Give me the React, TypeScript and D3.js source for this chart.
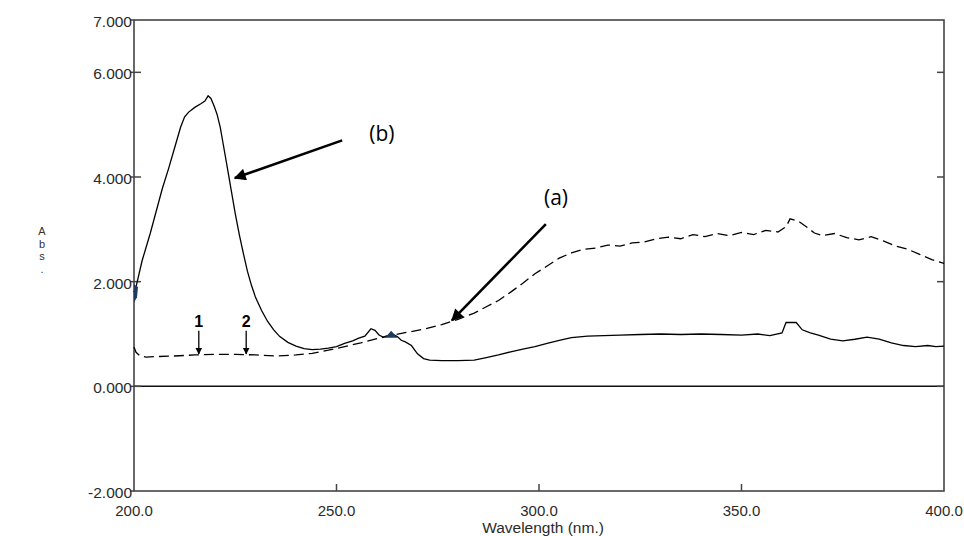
import React from "react";
import * as d3 from "d3";

const xTicks = [200, 250, 300, 350, 400];
const yTicks = [7, 6, 4, 2, 0, -2];

const bWave = [200, 200.5, 202, 204, 205.5, 207, 208.5, 210, 211.5, 212.5, 213.5, 215, 216.5, 217.5, 218.3, 219, 219.8, 220.5, 221.3, 222, 223, 224, 225, 226, 227, 228, 229, 230, 231.5, 233, 234.5, 236, 238, 240, 242, 244, 246, 248, 250, 252, 254, 255.5, 257, 258.5, 259.5, 260.5, 261.5, 263, 264, 265, 266, 267, 268.5, 270, 271.5, 273, 276, 280, 284, 287, 290, 293, 296, 299, 302, 305, 308, 312, 316, 320, 325, 330, 335, 340, 345, 350, 354, 357, 360, 361, 363.5, 365, 367, 369, 372, 375, 378, 381, 384, 387, 390, 393, 396, 398, 400];
const bAbs = [1.8, 1.9, 2.4, 2.92, 3.35, 3.78, 4.15, 4.55, 4.95, 5.15, 5.24, 5.33, 5.4, 5.45, 5.55, 5.5, 5.35, 5.2, 4.95, 4.64, 4.2, 3.75, 3.3, 2.9, 2.54, 2.2, 1.93, 1.7, 1.45, 1.24, 1.08, 0.95, 0.84, 0.77, 0.72, 0.7, 0.71, 0.73, 0.76, 0.82, 0.87, 0.92, 0.96, 1.1, 1.07, 0.98, 0.94, 0.98, 0.99, 0.95, 0.88, 0.85, 0.78, 0.62, 0.53, 0.5, 0.49, 0.49, 0.5, 0.55, 0.6, 0.66, 0.71, 0.76, 0.82, 0.88, 0.93, 0.96, 0.97, 0.98, 0.99, 1.0, 0.99, 1.0, 0.99, 0.98, 1.0, 0.97, 1.02, 1.22, 1.22, 1.08, 1.02, 0.98, 0.9, 0.87, 0.9, 0.94, 0.9, 0.83, 0.78, 0.76, 0.78, 0.76, 0.77];

const aWave = [200, 200.5, 201.5, 203, 206, 210, 215, 220, 225, 230, 235, 240, 244, 248, 252, 256, 260, 264, 268, 272, 276, 280, 284, 287, 290, 293, 296, 299, 302, 305, 308, 311, 314, 317, 320, 323, 326, 329, 332, 335, 338, 341, 344, 347, 350, 353, 356, 359, 361, 362, 364, 366, 368, 370, 373, 376, 379, 382, 385, 388, 391, 394, 397, 400];
const aAbs = [0.75, 0.65, 0.58, 0.56, 0.57, 0.58, 0.6, 0.61, 0.61, 0.6, 0.58, 0.6, 0.63, 0.69, 0.76, 0.83, 0.91, 0.98, 1.04, 1.1, 1.18, 1.28, 1.4, 1.52, 1.64, 1.8, 1.97, 2.15, 2.3, 2.45, 2.55, 2.62, 2.64, 2.7, 2.68, 2.74, 2.76, 2.82, 2.85, 2.82, 2.9, 2.86, 2.92, 2.88, 2.94, 2.9, 2.98, 2.95, 3.05, 3.2, 3.16, 3.05, 2.93, 2.88, 2.92, 2.84, 2.8, 2.86, 2.78, 2.68, 2.62, 2.52, 2.42, 2.35];

const W = 964, H = 536;
const L = 134, R = 944, T = 20, B = 491;

export default function App() {
  const x = d3.scaleLinear().domain([200, 400]).range([L, R]);
  const y = d3.scaleLinear().domain([-2, 7]).range([B, T]);
  const line = d3.line<[number, number]>().x(d => x(d[0])).y(d => y(d[1]));
  const bPts = bWave.map((w, i) => [w, bAbs[i]] as [number, number]);
  const aPts = aWave.map((w, i) => [w, aAbs[i]] as [number, number]);
  const tickFont = "'Liberation Sans', Arial, sans-serif";
  const annFont = "'Open Sans', 'Liberation Sans', sans-serif";
  const axisColor = "#444";
  const fmtY = (t: number) => t.toFixed(3);
  const fmtX = (t: number) => t.toFixed(1);

  const arrowB = { x1: x(251.4), y1: y(4.7), x2: x(224.9), y2: y(3.98) };
  const arrowA = { x1: x(301.7), y1: y(3.1), x2: x(278.5), y2: y(1.26) };

  return (
    <svg width={W} height={H} style={{ position: "absolute", left: 0, top: 0, background: "#fff" }}>
      <defs>
        <marker id="ah" viewBox="0 0 10 10" refX="9" refY="5" markerWidth="14" markerHeight="12" markerUnits="userSpaceOnUse" orient="auto">
          <path d="M0,0 L10,5 L0,10 z" fill="#000" />
        </marker>
        <marker id="sh" viewBox="0 0 10 10" refX="9" refY="5" markerWidth="7" markerHeight="8" markerUnits="userSpaceOnUse" orient="auto">
          <path d="M0,0 L10,5 L0,10 z" fill="#000" />
        </marker>
      </defs>
      <rect x={L} y={T} width={R - L} height={B - T} fill="none" stroke={axisColor} strokeWidth={1.6} />
      <line x1={L} x2={R} y1={y(0)} y2={y(0)} stroke="#111" strokeWidth={1.5} />
      {yTicks.map(t => (
        <g key={"y" + t}>
          {t > -2 && t < 7 && <line x1={L - 4} x2={L + 7} y1={y(t)} y2={y(t)} stroke={axisColor} strokeWidth={1.5} />}
          {t > -2 && t < 7 && <line x1={R - 7} x2={R} y1={y(t)} y2={y(t)} stroke={axisColor} strokeWidth={1.5} />}
          {t === 7 || t === -2 ? <line x1={L - 4} x2={L} y1={y(t)} y2={y(t)} stroke={axisColor} strokeWidth={1.5} /> : null}
          <text x={L - 2} y={y(t) + 7} textAnchor="end" fontFamily={tickFont} fontSize={15.5} fill="#2a2a2a">
            {fmtY(t)}
          </text>
        </g>
      ))}
      {xTicks.map(t => (
        <g key={"x" + t}>
          {t > 200 && t < 400 && <line x1={x(t)} x2={x(t)} y1={B} y2={B - 7} stroke={axisColor} strokeWidth={1.5} />}
          <text x={x(t)} y={516} textAnchor="middle" fontFamily={tickFont} fontSize={15} fill="#2a2a2a">
            {fmtX(t)}
          </text>
        </g>
      ))}
      <text x={(L + R) / 2 + 4} y={533} textAnchor="middle" fontFamily={tickFont} fontSize={15.5} fill="#2a2a2a">Wavelength (nm.)</text>
      {["A", "b", "s", "."].map((c, i) => (
        <text key={i} x={42} y={235 + i * 12.5} textAnchor="middle" fontFamily={tickFont} fontSize={11} fill="#333">{c}</text>
      ))}
      <path d={line(aPts) || ""} fill="none" stroke="#000" strokeWidth={1.3} strokeDasharray="10,5" />
      <path d={line(bPts) || ""} fill="none" stroke="#000" strokeWidth={1.3} />
      <path d={`M${x(200)},${y(1.95)} L${x(200) + 4},${y(1.9)} L${x(200) + 3},${y(1.7)} L${x(200)},${y(1.6)} Z`} fill="#1f3a5f" />
      <path d={`M${x(263) - 4},${y(0.93)} L${x(263.5)},${y(1.06)} L${x(264.3) + 3},${y(0.93)} Z`} fill="#1f3a5f" />
      <line x1={arrowB.x1} y1={arrowB.y1} x2={arrowB.x2} y2={arrowB.y2} stroke="#000" strokeWidth={2.5} markerEnd="url(#ah)" />
      <text x={x(261.2)} y={y(4.82)} dy="0.35em" textAnchor="middle" fontFamily={annFont} fontSize={21} fill="#000">(b)</text>
      <line x1={arrowA.x1} y1={arrowA.y1} x2={arrowA.x2} y2={arrowA.y2} stroke="#000" strokeWidth={2.5} markerEnd="url(#ah)" />
      <text x={x(304.2)} y={y(3.6)} dy="0.35em" textAnchor="middle" fontFamily={annFont} fontSize={21} fill="#000">(a)</text>
      {[{ w: 216, l: "1" }, { w: 227.7, l: "2" }].map(m => (
        <g key={m.l}>
          <text x={x(m.w)} y={y(1.13)} textAnchor="middle" fontFamily={tickFont} fontSize={16} fontWeight="bold" fill="#000">{m.l}</text>
          <line x1={x(m.w)} x2={x(m.w)} y1={y(1.06)} y2={y(0.62)} stroke="#000" strokeWidth={1.3} markerEnd="url(#sh)" />
        </g>
      ))}
    </svg>
  );
}
